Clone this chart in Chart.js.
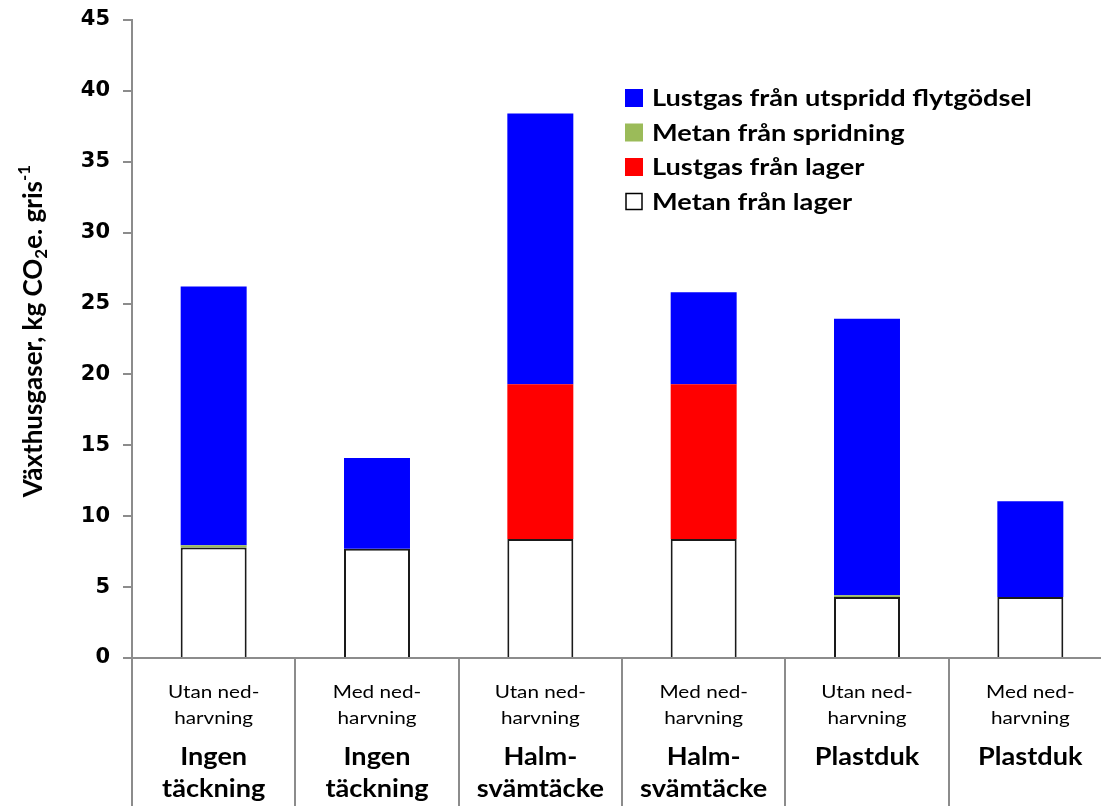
<!DOCTYPE html>
<html>
<head>
<meta charset="utf-8">
<script src="https://cdn.jsdelivr.net/npm/chart.js@4.4.1/dist/chart.umd.min.js"></script>
<style>
  html, body { margin: 0; padding: 0; background: #fff; overflow: hidden; }
  canvas { display: block; }
</style>
</head>
<body>
<canvas id="chart" width="1120" height="806"></canvas>
<script>
// x labels: treatment (regular) and cover type (bold)
const treatments = [
  ["Utan ned-", "harvning"], ["Med ned-", "harvning"],
  ["Utan ned-", "harvning"], ["Med ned-", "harvning"],
  ["Utan ned-", "harvning"], ["Med ned-", "harvning"]
]
const covers = [
  ["Ingen", "täckning"], ["Ingen", "täckning"],
  ["Halm-", "svämtäcke"], ["Halm-", "svämtäcke"],
  ["Plastduk"], ["Plastduk"]
]

// kg CO2e per gris, stacked bottom to top
const metanLager = [7.8, 7.7, 8.4, 8.4, 4.3, 4.3]
const lustgasLager = [0, 0, 10.9, 10.9, 0, 0]
const metanSpridning = [0.15, 0, 0, 0, 0.12, 0]
const lustgasSpridd = [18.25, 6.4, 19.1, 6.5, 19.5, 6.75]

const yTicks = { min: 0, max: 45, step: 5 }

const axisGray = "#8c8c8c"

// text in the original is a bit wider than Lato, so stretch it sideways
function wideText(ctx, text, x, y, sx) {
  ctx.save()
  ctx.translate(x, y)
  ctx.scale(sx, 1)
  ctx.fillText(text, 0, 0)
  ctx.restore()
}

const yTitlePlugin = {
  id: "yTitle",
  afterDraw(chart) {
    const ctx = chart.ctx
    const big = "bold 26px Lato"
    const small = "bold 17px Lato"
    const parts = [
      { t: "Växthusgaser, kg CO", f: big, dy: 0 },
      { t: "2", f: small, dy: 5 },
      { t: "e. gris", f: big, dy: 0 },
      { t: "-1", f: small, dy: -12 }
    ]
    let total = 0
    parts.forEach(p => { ctx.font = p.f; p.w = ctx.measureText(p.t).width; total += p.w })
    ctx.save()
    ctx.translate(42, 331)
    ctx.rotate(-Math.PI / 2)
    ctx.fillStyle = "#000"
    ctx.textBaseline = "alphabetic"
    ctx.textAlign = "left"
    let x = -total / 2
    parts.forEach(p => {
      ctx.font = p.f
      ctx.fillText(p.t, x, p.dy)
      x += p.w
    })
    ctx.restore()
  }
}

const xLabelPlugin = {
  id: "xLabels",
  afterDraw(chart) {
    const ctx = chart.ctx
    const xs = chart.scales.x
    ctx.save()
    ctx.fillStyle = "#000"
    ctx.textAlign = "center"
    ctx.textBaseline = "middle"
    treatments.forEach((lines, i) => {
      const cx = xs.getPixelForValue(i)
      ctx.font = "18px Lato"
      wideText(ctx, lines[0], cx, 692, 1.15)
      wideText(ctx, lines[1], cx, 718, 1.15)
      ctx.font = "bold 24px Lato"
      covers[i].forEach((c, j) => wideText(ctx, c, cx, 757 + j * 32, 1.13))
    })
    ctx.restore()
  }
}

const legendPlugin = {
  id: "boxLegend",
  afterDraw(chart) {
    const ctx = chart.ctx
    const sets = chart.data.datasets.slice().reverse()
    ctx.save()
    ctx.font = "bold 22px Lato"
    ctx.textBaseline = "middle"
    ctx.textAlign = "left"
    sets.forEach((ds, i) => {
      const top = 89 + i * 34.5
      ctx.fillStyle = ds.backgroundColor
      ctx.fillRect(625, top, 18, 18)
      if (ds.borderWidth) {
        ctx.strokeStyle = "#000"
        ctx.lineWidth = 1.5
        ctx.strokeRect(626, top + 1, 16, 16)
      }
      ctx.fillStyle = "#000"
      wideText(ctx, ds.label, 652, top + 10, 1.235)
    })
    ctx.restore()
  }
}

new Chart(document.getElementById("chart"), {
  type: "bar",
  data: {
    labels: covers.map(c => c.join(" ")),
    datasets: [
      { label: "Metan från lager", data: metanLager, backgroundColor: "#ffffff", borderColor: "#1a1a1a", borderWidth: 2 },
      { label: "Lustgas från lager", data: lustgasLager, backgroundColor: "#ff0000", borderWidth: 0 },
      { label: "Metan från spridning", data: metanSpridning, backgroundColor: "#9bbb59", borderWidth: 0 },
      { label: "Lustgas från utspridd flytgödsel", data: lustgasSpridd, backgroundColor: "#0000ff", borderWidth: 0 }
    ]
  },
  options: {
    responsive: false,
    animation: false,
    layout: { padding: { top: 20, right: 8, left: 0, bottom: 0 } },
    datasets: { bar: { barPercentage: 0.404, categoryPercentage: 1 } },
    plugins: {
      legend: { display: false },
      tooltip: { enabled: false }
    },
    scales: {
      x: {
        stacked: true,
        offset: true,
        border: { color: axisGray, width: 2 },
        grid: { offset: true, drawOnChartArea: false, tickLength: 148, color: axisGray, lineWidth: 2 },
        ticks: { display: false },
        afterFit(scale) { scale.height = 148 }
      },
      y: {
        stacked: true,
        min: yTicks.min,
        max: yTicks.max,
        border: { color: axisGray, width: 2 },
        grid: { drawOnChartArea: false, tickLength: 9, color: axisGray, lineWidth: 2 },
        ticks: {
          stepSize: yTicks.step,
          padding: 13,
          color: "#000",
          font: { family: "DejaVu Sans", weight: "bold", size: 21 }
        },
        afterFit(scale) {
          scale.width = 132
          scale.paddingTop = 0
          scale.paddingBottom = 0
        }
      }
    }
  },
  plugins: [yTitlePlugin, xLabelPlugin, legendPlugin]
})
</script>
</body>
</html>
